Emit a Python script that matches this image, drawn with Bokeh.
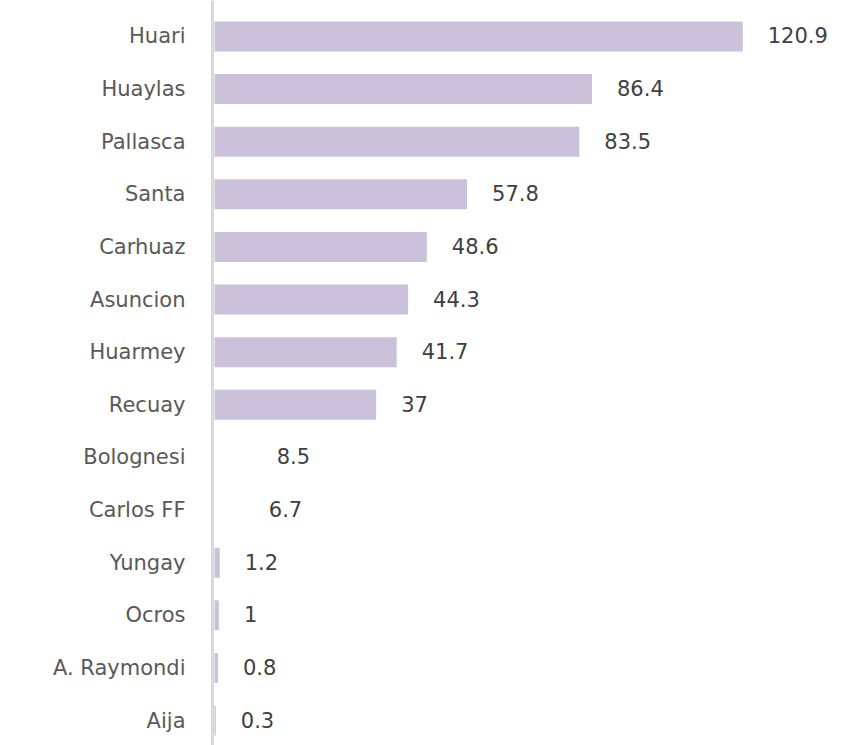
from bokeh.plotting import figure
from bokeh.models import ColumnDataSource, Range1d, FixedTicker
from bokeh.core.properties import value
from bokeh.embed import file_html
from bokeh.resources import INLINE

# Data (top to bottom)
provinces = ["Huari", "Huaylas", "Pallasca", "Santa", "Carhuaz", "Asuncion", "Huarmey",
             "Recuay", "Bolognesi", "Carlos FF", "Yungay", "Ocros", "A. Raymondi", "Aija"]
values = [120.9, 86.4, 83.5, 57.8, 48.6, 44.3, 41.7, 37, 8.5, 6.7, 1.2, 1, 0.8, 0.3]
labels = ["120.9", "86.4", "83.5", "57.8", "48.6", "44.3", "41.7", "37",
          "8.5", "6.7", "1.2", "1", "0.8", "0.3"]
# bars that are drawn in the reference (Bolognesi and Carlos FF show no bar)
bar_drawn = [True, True, True, True, True, True, True, True, False, False, True, True, True, True]

BAR = "#ccc1da"
FONT = "DejaVu Sans"

pos = list(range(len(provinces)))
src = ColumnDataSource(dict(
    y=pos,
    v=values,
    lab=labels,
    a=[1.0 if d else 0.0 for d in bar_drawn],
))

p = figure(width=844, height=745, output_backend="svg", toolbar_location=None,
           x_range=Range1d(-0.46, 144.2), y_range=Range1d(13.475, -0.684),
           min_border_left=212, min_border_right=0, min_border_top=0, min_border_bottom=0)

p.hbar(y="y", right="v", left=0, height=0.57, source=src,
       fill_color=BAR, fill_alpha="a", line_color=None)

p.text(x="v", y="y", text="lab", source=src, x_offset=25, y_offset=-1,
       text_baseline="middle", text_align="left",
       text_font=value(FONT), text_font_size="21px", text_color="#404040")

p.xaxis.visible = False
p.xgrid.visible = False
p.ygrid.visible = False
p.outline_line_color = None

ax = p.yaxis[0]
ax.ticker = FixedTicker(ticks=pos)
ax.major_label_overrides = {i: name for i, name in zip(pos, provinces)}
ax.axis_line_color = "#d9d9d9"
ax.axis_line_width = 3
ax.major_tick_line_color = None
ax.minor_tick_line_color = None
ax.major_tick_out = 0
ax.major_tick_in = 0
ax.major_label_standoff = 27
ax.major_label_text_font = FONT
ax.major_label_text_font_size = "21px"
ax.major_label_text_color = "#595959"

open("out.html", "w").write(file_html(p, INLINE))
